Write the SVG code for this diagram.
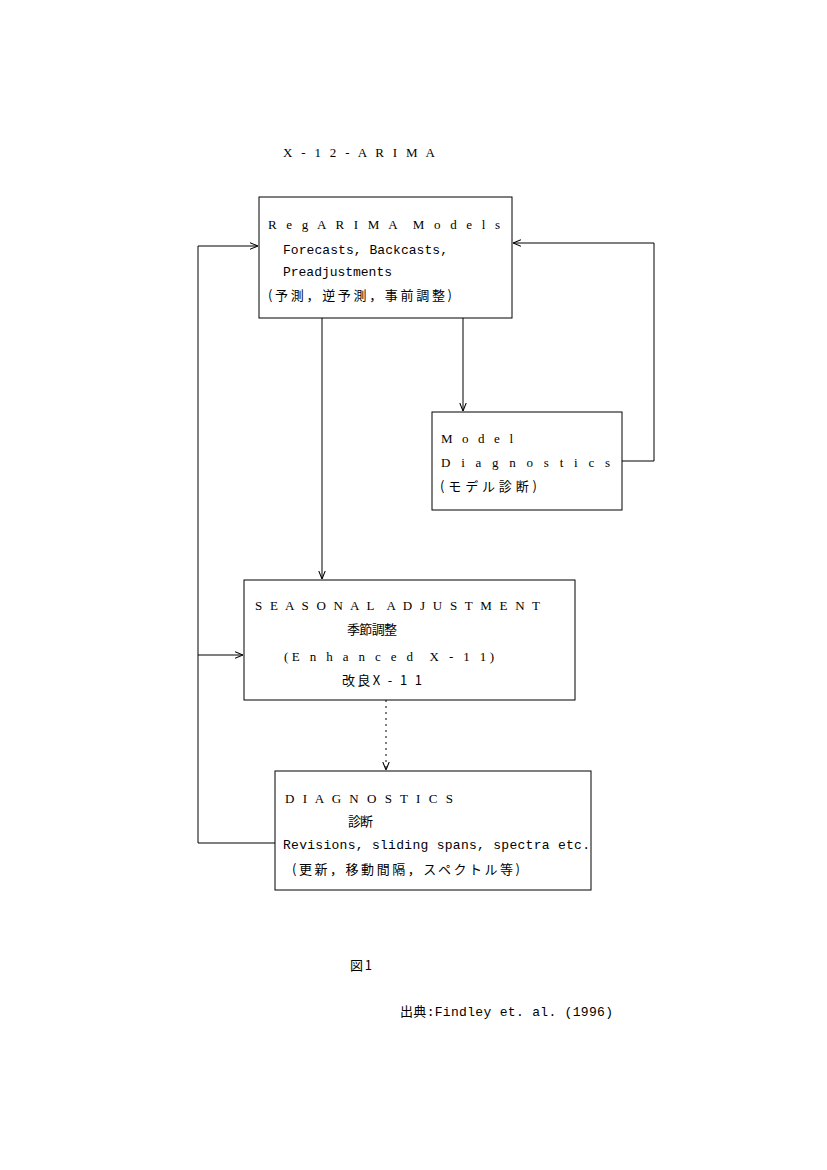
<svg xmlns="http://www.w3.org/2000/svg" width="827" height="1170" viewBox="0 0 827 1170" xml:space="preserve">
<style>
.t{font-family:"Liberation Serif","Noto Sans CJK JP",serif;font-size:13px;fill:#000;white-space:pre}
.m{font-family:"Liberation Mono","Noto Sans CJK JP",monospace;font-size:13px;fill:#000;white-space:pre}
.j{font-family:"Noto Sans CJK JP",sans-serif;font-size:13px;fill:#000;white-space:pre}
.box{fill:none;stroke:#000;stroke-width:1}
.c{fill:none;stroke:#000;stroke-width:1}
</style>
<defs>
<marker id="ah" viewBox="0 0 10 10" refX="10" refY="5" markerWidth="8" markerHeight="8" orient="auto" markerUnits="userSpaceOnUse">
<path d="M0,1 L10,5 L0,9" fill="none" stroke="#000" stroke-width="1.3"/>
</marker>
</defs>
<rect width="827" height="1170" fill="#fff"/>
<text class="t" x="283" y="157" textLength="152">X - 1 2 - A R I M A</text>
<g id="connectors">
<path class="c" d="M463,318 V411" marker-end="url(#ah)"/>
<path class="c" d="M322,318 V579" marker-end="url(#ah)"/>
<path class="c" d="M622,461 H654 V243 H513" marker-end="url(#ah)"/>
<path class="c" d="M386,700 V770" stroke-dasharray="2,4" marker-end="url(#ah)"/>
<path class="c" d="M275,843 H198 V246 H258" marker-end="url(#ah)"/>
<path class="c" d="M198,655 H243" marker-end="url(#ah)"/>
</g>
<g id="regarima">
<rect class="box" x="259" y="197" width="253" height="121"/>
<text class="t" x="268" y="229" textLength="232">R e g A R I M A  M o d e l s</text>
<text class="m" x="283" y="254" textLength="165">Forecasts, Backcasts,</text>
<text class="m" x="283" y="276" textLength="109">Preadjustments</text>
<text class="j" x="268" y="300" textLength="184">(予測，逆予測，事前調整)</text>
</g>
<g id="modeldiag">
<rect class="box" x="432" y="412" width="190" height="98"/>
<text class="t" x="441" y="443" textLength="72">M o d e l</text>
<text class="t" x="441" y="467" textLength="169">D i a g n o s t i c s</text>
<text class="j" x="440" y="491" textLength="97">(モデル診断)</text>
</g>
<g id="seasonal">
<rect class="box" x="244" y="580" width="331" height="120"/>
<text class="t" x="255" y="610" textLength="285">S E A S O N A L  A D J U S T M E N T</text>
<text class="j" x="347" y="634" textLength="50">季節調整</text>
<text class="t" x="284" y="661" textLength="210">(E n h a n c e d  X - 1 1)</text>
<text class="j" x="342" y="685" textLength="80">改良X - 1 1</text>
</g>
<g id="diagnostics">
<rect class="box" x="275" y="771" width="316" height="119"/>
<text class="t" x="285" y="803" textLength="168">D I A G N O S T I C S</text>
<text class="j" x="348" y="826" textLength="25">診断</text>
<text class="m" x="283" y="849" textLength="307">Revisions, sliding spans, spectra etc.</text>
<text class="j" x="292" y="874" textLength="228">(更新，移動間隔，スペクトル等)</text>
</g>
<text class="j" x="350" y="970" textLength="22">図1</text>
<text class="m" x="400" y="1016" textLength="213">出典:Findley et. al. (1996)</text>
</svg>
